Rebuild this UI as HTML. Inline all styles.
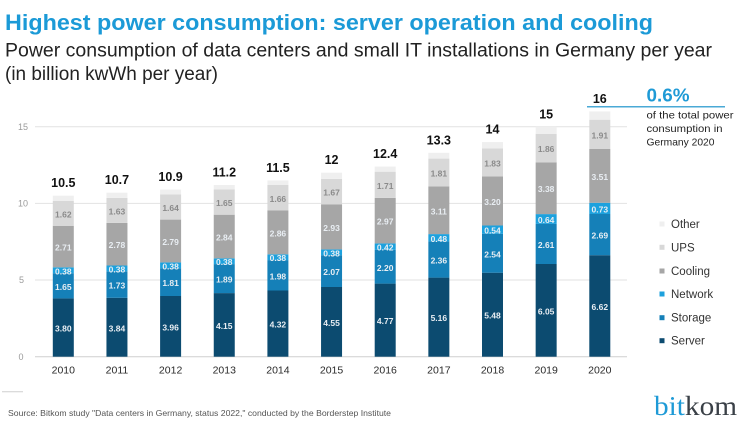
<!DOCTYPE html>
<html>
<head>
<meta charset="utf-8">
<style>
html,body{margin:0;padding:0;background:#fff;}
svg{display:block;}
text{font-family:"Liberation Sans",sans-serif;}
.seg{font-size:8.5px;font-weight:bold;text-anchor:middle;}
.w{fill:#e9eef3;}
.g{fill:#8a8a8a;}
.tot{font-size:12.5px;font-weight:bold;text-anchor:middle;fill:#111;}
.yr{font-size:10.5px;text-anchor:middle;fill:#2a2a2a;}
.yl{font-size:9px;fill:#9a9a9a;}
.lg{font-size:11.5px;fill:#333;}
.serif{font-family:"Liberation Serif",serif;}
</style>
</head>
<body>
<svg width="745" height="421" viewBox="0 0 745 421" xmlns="http://www.w3.org/2000/svg">
<rect width="745" height="421" fill="#fff"/>
<text x="5" y="30" font-size="22" font-weight="bold" fill="#1b9ad7" textLength="648" lengthAdjust="spacingAndGlyphs">Highest power consumption: server operation and cooling</text>
<text x="5" y="56.5" font-size="19" fill="#222" textLength="707" lengthAdjust="spacingAndGlyphs">Power consumption of data centers and small IT installations in Germany per year</text>
<text x="5" y="80" font-size="19" fill="#222" textLength="213" lengthAdjust="spacingAndGlyphs">(in billion kwWh per year)</text>

<!-- grid -->
<line x1="35" y1="126.75" x2="627" y2="126.75" stroke="#e2e2e2" stroke-width="1"/>
<line x1="35" y1="203.4" x2="627" y2="203.4" stroke="#e2e2e2" stroke-width="1"/>
<line x1="35" y1="280.05" x2="627" y2="280.05" stroke="#e2e2e2" stroke-width="1"/>
<line x1="35" y1="356.7" x2="627" y2="356.7" stroke="#cfcfcf" stroke-width="1"/>
<text class="yl" x="18" y="130">15</text>
<text class="yl" x="18" y="206.5">10</text>
<text class="yl" x="19" y="283">5</text>
<text class="yl" x="18.5" y="360">0</text>

<!-- 2010 -->
<g transform="translate(52.8,0)">
<rect x="0" y="298.4" width="21" height="58.3" fill="#0c4b70"/>
<rect x="0" y="273.2" width="21" height="25.2" fill="#1580b8"/>
<rect x="0" y="267.3" width="21" height="5.9" fill="#1da1dd"/>
<rect x="0" y="225.8" width="21" height="41.5" fill="#a6a6a6"/>
<rect x="0" y="201.0" width="21" height="24.8" fill="#d8d8d8"/>
<rect x="0" y="195.7" width="21" height="5.3" fill="#efefef"/>
<text class="seg w" x="10.5" y="331.6">3.80</text>
<text class="seg w" x="10.5" y="289.8">1.65</text>
<text class="seg w" x="10.5" y="274.3">0.38</text>
<text class="seg w" x="10.5" y="250.6">2.71</text>
<text class="seg g" x="10.5" y="217.4">1.62</text>
<text class="tot" x="10.5" y="187.2">10.5</text>
<text class="yr" x="10.5" y="373.3">2010</text>
</g>
<!-- 2011 -->
<g transform="translate(106.45,0)">
<rect x="0" y="297.8" width="21" height="58.9" fill="#0c4b70"/>
<rect x="0" y="271.3" width="21" height="26.5" fill="#1580b8"/>
<rect x="0" y="265.5" width="21" height="5.8" fill="#1da1dd"/>
<rect x="0" y="222.9" width="21" height="42.6" fill="#a6a6a6"/>
<rect x="0" y="197.9" width="21" height="25.0" fill="#d8d8d8"/>
<rect x="0" y="192.7" width="21" height="5.2" fill="#efefef"/>
<text class="seg w" x="10.5" y="331.3">3.84</text>
<text class="seg w" x="10.5" y="288.6">1.73</text>
<text class="seg w" x="10.5" y="272.4">0.38</text>
<text class="seg w" x="10.5" y="248.2">2.78</text>
<text class="seg g" x="10.5" y="214.4">1.63</text>
<text class="tot" x="10.5" y="184.2">10.7</text>
<text class="yr" x="10.5" y="373.3">2011</text>
</g>
<!-- 2012 -->
<g transform="translate(160.1,0)">
<rect x="0" y="296.0" width="21" height="60.7" fill="#0c4b70"/>
<rect x="0" y="268.2" width="21" height="27.8" fill="#1580b8"/>
<rect x="0" y="262.4" width="21" height="5.8" fill="#1da1dd"/>
<rect x="0" y="219.6" width="21" height="42.8" fill="#a6a6a6"/>
<rect x="0" y="194.5" width="21" height="25.1" fill="#d8d8d8"/>
<rect x="0" y="189.6" width="21" height="4.9" fill="#efefef"/>
<text class="seg w" x="10.5" y="330.4">3.96</text>
<text class="seg w" x="10.5" y="286.1">1.81</text>
<text class="seg w" x="10.5" y="269.3">0.38</text>
<text class="seg w" x="10.5" y="245.0">2.79</text>
<text class="seg g" x="10.5" y="211.1">1.64</text>
<text class="tot" x="10.5" y="181.1">10.9</text>
<text class="yr" x="10.5" y="373.3">2012</text>
</g>
<!-- 2013 -->
<g transform="translate(213.75,0)">
<rect x="0" y="293.1" width="21" height="63.6" fill="#0c4b70"/>
<rect x="0" y="264.1" width="21" height="29.0" fill="#1580b8"/>
<rect x="0" y="258.3" width="21" height="5.8" fill="#1da1dd"/>
<rect x="0" y="214.7" width="21" height="43.6" fill="#a6a6a6"/>
<rect x="0" y="189.5" width="21" height="25.2" fill="#d8d8d8"/>
<rect x="0" y="185.0" width="21" height="4.5" fill="#efefef"/>
<text class="seg w" x="10.5" y="328.9">4.15</text>
<text class="seg w" x="10.5" y="282.6">1.89</text>
<text class="seg w" x="10.5" y="265.2">0.38</text>
<text class="seg w" x="10.5" y="240.5">2.84</text>
<text class="seg g" x="10.5" y="206.1">1.65</text>
<text class="tot" x="10.5" y="176.5">11.2</text>
<text class="yr" x="10.5" y="373.3">2013</text>
</g>
<!-- 2014 -->
<g transform="translate(267.4,0)">
<rect x="0" y="290.5" width="21" height="66.2" fill="#0c4b70"/>
<rect x="0" y="260.1" width="21" height="30.4" fill="#1580b8"/>
<rect x="0" y="254.3" width="21" height="5.8" fill="#1da1dd"/>
<rect x="0" y="210.5" width="21" height="43.8" fill="#a6a6a6"/>
<rect x="0" y="185.0" width="21" height="25.5" fill="#d8d8d8"/>
<rect x="0" y="180.4" width="21" height="4.6" fill="#efefef"/>
<text class="seg w" x="10.5" y="327.6">4.32</text>
<text class="seg w" x="10.5" y="279.3">1.98</text>
<text class="seg w" x="10.5" y="261.2">0.38</text>
<text class="seg w" x="10.5" y="236.4">2.86</text>
<text class="seg g" x="10.5" y="201.8">1.66</text>
<text class="tot" x="10.5" y="171.9">11.5</text>
<text class="yr" x="10.5" y="373.3">2014</text>
</g>
<!-- 2015 -->
<g transform="translate(321.05,0)">
<rect x="0" y="287.0" width="21" height="69.7" fill="#0c4b70"/>
<rect x="0" y="255.2" width="21" height="31.8" fill="#1580b8"/>
<rect x="0" y="249.4" width="21" height="5.8" fill="#1da1dd"/>
<rect x="0" y="204.5" width="21" height="44.9" fill="#a6a6a6"/>
<rect x="0" y="178.9" width="21" height="25.6" fill="#d8d8d8"/>
<rect x="0" y="172.7" width="21" height="6.2" fill="#efefef"/>
<text class="seg w" x="10.5" y="325.9">4.55</text>
<text class="seg w" x="10.5" y="275.1">2.07</text>
<text class="seg w" x="10.5" y="256.3">0.38</text>
<text class="seg w" x="10.5" y="231.0">2.93</text>
<text class="seg g" x="10.5" y="195.7">1.67</text>
<text class="tot" x="10.5" y="164.2">12</text>
<text class="yr" x="10.5" y="373.3">2015</text>
</g>
<!-- 2016 -->
<g transform="translate(374.7,0)">
<rect x="0" y="283.6" width="21" height="73.1" fill="#0c4b70"/>
<rect x="0" y="249.9" width="21" height="33.7" fill="#1580b8"/>
<rect x="0" y="243.4" width="21" height="6.5" fill="#1da1dd"/>
<rect x="0" y="197.9" width="21" height="45.5" fill="#a6a6a6"/>
<rect x="0" y="171.7" width="21" height="26.2" fill="#d8d8d8"/>
<rect x="0" y="166.6" width="21" height="5.1" fill="#efefef"/>
<text class="seg w" x="10.5" y="324.2">4.77</text>
<text class="seg w" x="10.5" y="270.8">2.20</text>
<text class="seg w" x="10.5" y="250.7">0.42</text>
<text class="seg w" x="10.5" y="224.7">2.97</text>
<text class="seg g" x="10.5" y="188.8">1.71</text>
<text class="tot" x="10.5" y="158.1">12.4</text>
<text class="yr" x="10.5" y="373.3">2016</text>
</g>
<!-- 2017 -->
<g transform="translate(428.35,0)">
<rect x="0" y="277.6" width="21" height="79.1" fill="#0c4b70"/>
<rect x="0" y="241.4" width="21" height="36.2" fill="#1580b8"/>
<rect x="0" y="234.1" width="21" height="7.3" fill="#1da1dd"/>
<rect x="0" y="186.4" width="21" height="47.7" fill="#a6a6a6"/>
<rect x="0" y="158.6" width="21" height="27.8" fill="#d8d8d8"/>
<rect x="0" y="152.8" width="21" height="5.8" fill="#efefef"/>
<text class="seg w" x="10.5" y="321.2">5.16</text>
<text class="seg w" x="10.5" y="263.5">2.36</text>
<text class="seg w" x="10.5" y="241.8">0.48</text>
<text class="seg w" x="10.5" y="214.3">3.11</text>
<text class="seg g" x="10.5" y="176.5">1.81</text>
<text class="tot" x="10.5" y="144.3">13.3</text>
<text class="yr" x="10.5" y="373.3">2017</text>
</g>
<!-- 2018 -->
<g transform="translate(482.0,0)">
<rect x="0" y="272.7" width="21" height="84.0" fill="#0c4b70"/>
<rect x="0" y="233.8" width="21" height="38.9" fill="#1580b8"/>
<rect x="0" y="225.5" width="21" height="8.3" fill="#1da1dd"/>
<rect x="0" y="176.4" width="21" height="49.1" fill="#a6a6a6"/>
<rect x="0" y="148.4" width="21" height="28.0" fill="#d8d8d8"/>
<rect x="0" y="142.1" width="21" height="6.3" fill="#efefef"/>
<text class="seg w" x="10.5" y="318.7">5.48</text>
<text class="seg w" x="10.5" y="257.3">2.54</text>
<text class="seg w" x="10.5" y="233.7">0.54</text>
<text class="seg w" x="10.5" y="205.0">3.20</text>
<text class="seg g" x="10.5" y="166.4">1.83</text>
<text class="tot" x="10.5" y="133.6">14</text>
<text class="yr" x="10.5" y="373.3">2018</text>
</g>
<!-- 2019 -->
<g transform="translate(535.65,0)">
<rect x="0" y="264.0" width="21" height="92.7" fill="#0c4b70"/>
<rect x="0" y="223.9" width="21" height="40.1" fill="#1580b8"/>
<rect x="0" y="214.1" width="21" height="9.8" fill="#1da1dd"/>
<rect x="0" y="162.3" width="21" height="51.8" fill="#a6a6a6"/>
<rect x="0" y="133.8" width="21" height="28.5" fill="#d8d8d8"/>
<rect x="0" y="126.8" width="21" height="7.0" fill="#efefef"/>
<text class="seg w" x="10.5" y="314.4">6.05</text>
<text class="seg w" x="10.5" y="248.0">2.61</text>
<text class="seg w" x="10.5" y="223.0">0.64</text>
<text class="seg w" x="10.5" y="192.2">3.38</text>
<text class="seg g" x="10.5" y="152.1">1.86</text>
<text class="tot" x="10.5" y="118.3">15</text>
<text class="yr" x="10.5" y="373.3">2019</text>
</g>
<!-- 2020 -->
<g transform="translate(589.3,0)">
<rect x="0" y="255.2" width="21" height="101.5" fill="#0c4b70"/>
<rect x="0" y="214.0" width="21" height="41.2" fill="#1580b8"/>
<rect x="0" y="202.8" width="21" height="11.2" fill="#1da1dd"/>
<rect x="0" y="149.0" width="21" height="53.8" fill="#a6a6a6"/>
<rect x="0" y="119.7" width="21" height="29.3" fill="#d8d8d8"/>
<rect x="0" y="111.4" width="21" height="8.3" fill="#efefef"/>
<text class="seg w" x="10.5" y="310.0">6.62</text>
<text class="seg w" x="10.5" y="238.6">2.69</text>
<text class="seg w" x="10.5" y="212.4">0.73</text>
<text class="seg w" x="10.5" y="179.9">3.51</text>
<text class="seg g" x="10.5" y="138.4">1.91</text>
<text class="tot" x="10.5" y="102.9">16</text>
<text class="yr" x="10.5" y="373.3">2020</text>
</g>

<!-- annotation -->
<line x1="587" y1="106.7" x2="725" y2="106.7" stroke="#4aa9d6" stroke-width="1.5"/>
<text x="646.5" y="101.5" font-size="18" font-weight="bold" fill="#1e9ad6" textLength="43" lengthAdjust="spacingAndGlyphs">0.6%</text>
<text x="646.5" y="118.5" font-size="10.5" fill="#222" textLength="87" lengthAdjust="spacingAndGlyphs">of the total power</text>
<text x="646.5" y="132" font-size="10.5" fill="#222" textLength="76" lengthAdjust="spacingAndGlyphs">consumption in</text>
<text x="646.5" y="145.5" font-size="10.5" fill="#222" textLength="68" lengthAdjust="spacingAndGlyphs">Germany 2020</text>

<!-- legend -->
<rect x="659.5" y="221.5" width="5" height="5" fill="#efefef"/>
<text class="lg" x="671" y="228">Other</text>
<rect x="659.5" y="244.8" width="5" height="5" fill="#d8d8d8"/>
<text class="lg" x="671" y="251.3">UPS</text>
<rect x="659.5" y="268.5" width="5" height="5" fill="#a6a6a6"/>
<text class="lg" x="671" y="275">Cooling</text>
<rect x="659.5" y="291.5" width="5" height="5" fill="#1da1dd"/>
<text class="lg" x="671" y="298">Network</text>
<rect x="659.5" y="315.2" width="5" height="5" fill="#1580b8"/>
<text class="lg" x="671" y="321.7">Storage</text>
<rect x="659.5" y="338.2" width="5" height="5" fill="#0c4b70"/>
<text class="lg" x="671" y="344.7">Server</text>

<!-- footer -->
<line x1="2" y1="391.7" x2="23" y2="391.7" stroke="#cfcfcf" stroke-width="1"/>
<text x="8" y="416" font-size="8.2" fill="#555" textLength="383" lengthAdjust="spacingAndGlyphs">Source: Bitkom study "Data centers in Germany, status 2022," conducted by the Borderstep Institute</text>
<text class="serif" x="654" y="415" font-size="27" style="font-family:'Liberation Serif',serif" textLength="83" lengthAdjust="spacingAndGlyphs"><tspan fill="#1e9ad6">bit</tspan><tspan fill="#3a4047">kom</tspan></text>
</svg>
</body>
</html>
